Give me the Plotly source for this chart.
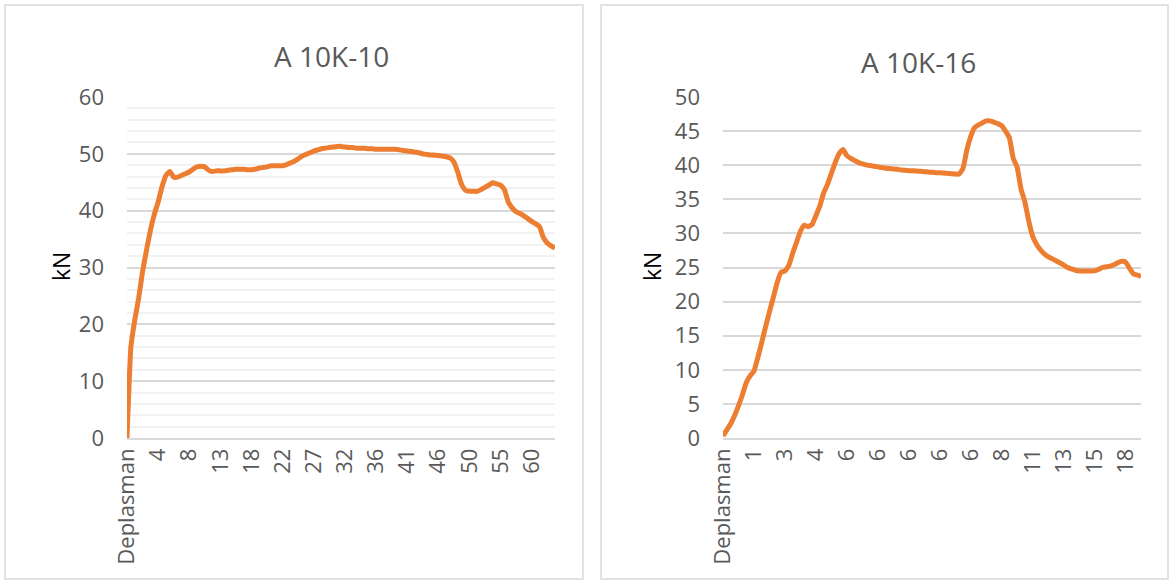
import plotly.graph_objects as go

# ---------------- data ----------------
title_left = "A 10K-10"
title_right = "A 10K-16"
y_title = "kN"

# category labels shown every 8th point (Excel category axis)
ticks_left = ["Deplasman", "4", "8", "13", "18", "22", "27", "32", "36", "41", "46", "50", "55", "60"]
ticks_right = ["Deplasman", "1", "3", "4", "6", "6", "6", "6", "6", "8", "11", "13", "15", "18"]
label_step = 8

force_left = [
    0, 16.0, 20.8, 24.6, 29.3, 33.0, 36.5, 39.3, 41.5, 44.2,
    46.2, 46.9, 45.9, 45.9, 46.2, 46.5, 46.8, 47.3, 47.7, 47.8,
    47.7, 47.1, 46.9, 47.0, 47.0, 47.0, 47.1, 47.2, 47.3, 47.3,
    47.3, 47.2, 47.2, 47.3, 47.5, 47.6, 47.7, 47.9, 47.9, 47.9,
    47.9, 48.1, 48.4, 48.7, 49.1, 49.6, 49.9, 50.2, 50.5, 50.7,
    50.9, 51.0, 51.1, 51.2, 51.3, 51.3, 51.2, 51.1, 51.1, 51.0,
    51.0, 51.0, 50.9, 50.9, 50.8, 50.8, 50.8, 50.8, 50.8, 50.8,
    50.7, 50.6, 50.5, 50.4, 50.3, 50.2, 50.0, 49.9, 49.8, 49.8,
    49.7, 49.6, 49.5, 49.3, 48.6, 46.8, 44.6, 43.6, 43.4, 43.4,
    43.4, 43.7, 44.1, 44.5, 44.9, 44.7, 44.5, 43.7, 41.5, 40.5,
    39.8, 39.5, 39.1, 38.6, 38.1, 37.7, 37.2, 35.3, 34.3, 33.8,
    33.4,
]

force_right = [
    0.3, 1.2, 2.1, 3.3, 4.7, 6.3, 8.1, 9.1, 9.8, 11.8,
    14.0, 16.3, 18.5, 20.6, 22.8, 24.3, 24.5, 25.3, 27.1, 28.7,
    30.3, 31.2, 31.0, 31.3, 32.6, 34.0, 35.9, 37.2, 38.8, 40.4,
    41.7, 42.3, 41.4, 41.0, 40.7, 40.4, 40.2, 40.05, 39.95, 39.85,
    39.75, 39.65, 39.55, 39.5, 39.45, 39.4, 39.3, 39.25, 39.2, 39.2,
    39.15, 39.1, 39.05, 39.0, 38.95, 38.9, 38.9, 38.85, 38.8, 38.75,
    38.7, 38.7, 39.5, 42.2, 44.2, 45.5, 45.9, 46.2, 46.5, 46.5,
    46.3, 46.1, 45.8, 45.0, 44.0, 41.0, 39.7, 36.5, 34.6, 31.8,
    29.6, 28.4, 27.6, 27.0, 26.6, 26.3, 26.0, 25.7, 25.4, 25.0,
    24.8, 24.6, 24.5, 24.5, 24.5, 24.5, 24.5, 24.7, 25.0, 25.1,
    25.2, 25.4, 25.7, 25.9, 25.8, 24.9, 24.1, 23.9, 23.7,
]

# ---------------- figure ----------------
W, H = 1170, 581
px = lambda x: x / W
py = lambda y: 1 - y / H

ORANGE = "#ED7D31"
GRID = "#D9D9D9"
TXT = "#595959"
FONT = "Open Sans"

fig = go.Figure()
fig.add_trace(go.Scatter(x=list(range(len(force_left))), y=force_left, mode="lines",
                         line=dict(color=ORANGE, width=5, shape="spline", smoothing=0.4),
                         xaxis="x", yaxis="y", showlegend=False, hoverinfo="skip"))
fig.add_trace(go.Scatter(x=list(range(len(force_right))), y=force_right, mode="lines",
                         line=dict(color=ORANGE, width=5, shape="spline", smoothing=0.4),
                         xaxis="x2", yaxis="y2", showlegend=False, hoverinfo="skip"))

def xaxis(dom, n, labels, anchor):
    return dict(domain=dom, anchor=anchor, range=[0, n - 1], automargin=False,
                tickmode="array", tickvals=[i * label_step for i in range(len(labels))],
                ticktext=labels, tickangle=-90, showgrid=False, zeroline=False,
                showline=True, linecolor=GRID, linewidth=1.5, ticks="",
                tickfont=dict(family=FONT, size=22, color=TXT), fixedrange=True)

def yaxis(dom, rng, dtick, anchor, minor=None):
    d = dict(domain=dom, anchor=anchor, range=rng, dtick=dtick, tick0=0, automargin=False,
             showgrid=True, gridcolor=GRID, gridwidth=1.5, zeroline=False,
             showline=False, ticks="", ticklabelstandoff=22,
             tickfont=dict(family=FONT, size=22, color=TXT), fixedrange=True)
    if minor:
        d["minor"] = minor
    return d

ydom = [py(438), py(97)]
fig.update_layout(
    width=W, height=H, margin=dict(l=0, r=0, t=0, b=0, pad=0, autoexpand=False),
    paper_bgcolor="white", plot_bgcolor="white",
    xaxis=xaxis([px(127), px(555)], len(force_left), ticks_left, "y"),
    yaxis=yaxis(ydom, [0, 60], 10, "x",
                minor=dict(dtick=2, tick0=0, showgrid=True, gridcolor="#F2F2F2", gridwidth=1.5)),
    xaxis2=xaxis([px(723), px(1141)], len(force_right), ticks_right, "y2"),
    yaxis2=yaxis(ydom, [0, 50], 5, "x2"),
)

# chart frames
for x0, x1 in [(5, 583), (601, 1168)]:
    fig.add_shape(type="rect", xref="paper", yref="paper",
                  x0=px(x0), x1=px(x1), y0=py(579), y1=py(5),
                  line=dict(color=GRID, width=1.5), fillcolor="rgba(0,0,0,0)", layer="below")

# titles
for x, y, t in [(331, 56, title_left), (918, 62, title_right)]:
    fig.add_annotation(x=px(x), y=py(y), xref="paper", yref="paper", text=t,
                       showarrow=False, xanchor="center", yanchor="middle",
                       font=dict(family=FONT, size=28, color=TXT))

# y-axis titles
for x in [61, 652]:
    fig.add_annotation(x=px(x), y=py(267), xref="paper", yref="paper", text=y_title,
                       showarrow=False, textangle=-90, xanchor="center", yanchor="middle",
                       font=dict(family=FONT, size=23, color="black"))

fig.write_html(
    "out.html",
    config={"displayModeBar": False},
    post_script="document.body.style.margin='0';document.body.style.overflow='hidden';",
)
